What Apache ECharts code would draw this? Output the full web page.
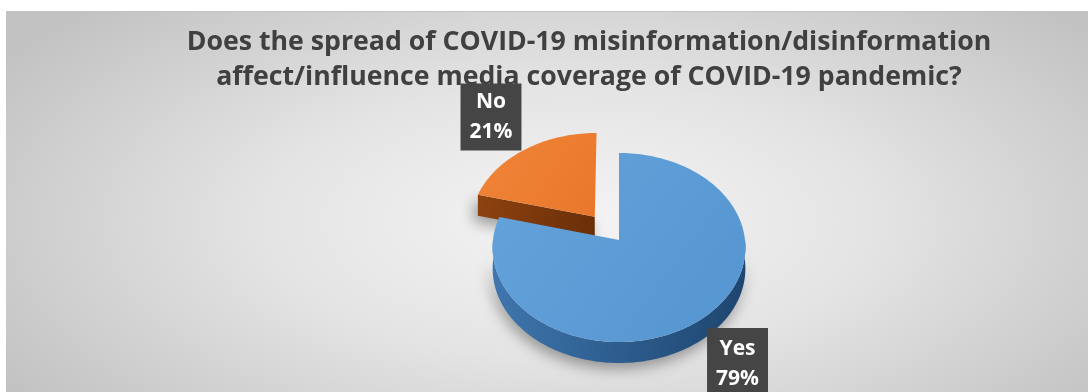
<!DOCTYPE html>
<html>
<head>
<meta charset="utf-8">
<script src="https://cdn.jsdelivr.net/npm/echarts@6/dist/echarts.min.js"></script>
<style>
  html, body { margin: 0; padding: 0; background: #ffffff; }
  #wrap { position: relative; width: 1088px; height: 392px; overflow: hidden; background: #ffffff; }
  #bg { position: absolute; left: 6px; top: 11px; width: 1082px; height: 381px;
        background: radial-gradient(ellipse 62% 80% at 52% 55%, #f4f4f4 0%, #e4e4e4 45%, #c2c2c2 100%);
        border-top: 1px solid #c4c4c4; box-sizing: border-box; }
  #chart { position: absolute; left: 0; top: 0; width: 1088px; height: 392px; }
</style>
</head>
<body>
<div id="wrap"><div id="bg"></div><div id="chart"></div></div>
<script>
const titleLines = ['Does the spread of COVID-19 misinformation/disinformation',
                    'affect/influence media coverage of COVID-19 pandemic?'];
const categories = ['Yes', 'No'];
const values = [79, 21];
const explodedCategory = 'No';

const total = values.reduce((a, b) => a + b, 0);

// projection of the tilted pie
const CX = 619, CY = 240, RA = 126, RB = 93.9, PERSP = -0.0794, DEPTH = 21, EXPL = 0.32;
function pt(u, v, dy) {
  const w = 1 + PERSP * v;
  return [CX + RA * u / w, CY + RB * v / w + (dy || 0)];
}

const palette = {
  Yes: { top: ['#64a3db', '#5595d0'], side: ['#4178b0', '#2d5d8e', '#1f4670'] },
  No:  { top: ['#f08539', '#e9772b'], side: ['#8e4210', '#7a370c', '#6a2f09'] }
};

function renderItem(params, api) {
  const i = params.dataIndex;
  const val = api.value(0);
  let before = 0;
  for (let k = 0; k < i; k++) before += values[k];
  const a0 = before / total * Math.PI * 2;
  const a1 = (before + val) / total * Math.PI * 2;
  const mid = (a0 + a1) / 2;
  const cat = categories[i];
  const isEx = cat === explodedCategory;
  const ex = isEx ? EXPL : 0;
  const ou = ex * Math.sin(mid), ov = -ex * Math.cos(mid);
  const col = palette[cat];

  const arc = (s, e, dy) => {
    const n = Math.max(6, Math.ceil((e - s) / (Math.PI * 2) * 240));
    const out = [];
    for (let k = 0; k <= n; k++) {
      const f = s + (e - s) * k / n;
      out.push(pt(Math.sin(f) + ou, -Math.cos(f) + ov, dy));
    }
    return out;
  };

  const children = [];
  const sideGrad = { type: 'linear', x: 0, y: 0, x2: 1, y2: 0.3,
    colorStops: [{ offset: 0, color: col.side[0] }, { offset: 0.55, color: col.side[1] }, { offset: 1, color: col.side[2] }] };

  // front rim
  const fs = Math.max(a0, Math.PI / 2), fe = Math.min(a1, Math.PI * 1.5);
  if (fe > fs) {
    const topArc = arc(fs, fe, 0);
    const botArc = arc(fs, fe, DEPTH).reverse();
    children.push({ type: 'polygon', shape: { points: topArc.concat(botArc) },
      style: { fill: sideGrad, shadowBlur: 14, shadowOffsetX: -2, shadowOffsetY: 6, shadowColor: 'rgba(0,0,0,0.35)' }, z2: 1 });
  }
  // radial faces
  const c0 = pt(ou, ov, 0), c1 = pt(ou, ov, DEPTH);
  const face = (f) => {
    const p0 = pt(Math.sin(f) + ou, -Math.cos(f) + ov, 0);
    const p1 = pt(Math.sin(f) + ou, -Math.cos(f) + ov, DEPTH);
    return [c0, p0, p1, c1];
  };
  if (Math.sin(a0) < -1e-6) {
    children.push({ type: 'polygon', shape: { points: face(a0) },
      style: { fill: sideGrad, shadowBlur: 14, shadowOffsetX: -4, shadowOffsetY: 6, shadowColor: 'rgba(0,0,0,0.35)' }, z2: 1 });
  }
  if (Math.sin(a1) > 1e-6) {
    children.push({ type: 'polygon', shape: { points: face(a1) },
      style: { fill: sideGrad, shadowBlur: 14, shadowOffsetY: 6, shadowColor: 'rgba(0,0,0,0.35)' }, z2: 1 });
  }
  // top face
  children.push({ type: 'polygon', shape: { points: [c0].concat(arc(a0, a1, 0)) },
    style: { fill: { type: 'linear', x: 0, y: 0, x2: 1, y2: 1,
      colorStops: [{ offset: 0, color: col.top[0] }, { offset: 1, color: col.top[1] }] } }, z2: 2 });

  // label (best-fit placement outside the slice)
  const lr = isEx ? 1.53 : 1.4;
  const front = -Math.cos(mid) > 0;
  const lp = pt(Math.sin(mid) * lr + ou, -Math.cos(mid) * lr + ov, front ? DEPTH / 2 : 0);
  const pct = Math.round(val / total * 100) + '%';
  children.push({ type: 'text', x: lp[0], y: lp[1], z2: 50,
    style: { text: cat + '\n' + pct, fill: '#ffffff', fontSize: 21, fontWeight: 'bold',
      fontFamily: '"Open Sans", "Noto Sans", sans-serif', align: 'center', verticalAlign: 'middle',
      lineHeight: 30, backgroundColor: '#454545', padding: front ? [10, 9, 3, 9] : [4, 9, 3, 9] } });

  const base = Math.round((-Math.cos(mid) + ov + 2) * 10) * 100;
  children.forEach(c => { c.z2 += base; });
  return { type: 'group', children: children };
}

const chart = echarts.init(document.getElementById('chart'), null, { renderer: 'canvas' });
chart.setOption({
  backgroundColor: 'transparent',
  animation: false,
  title: {
    text: titleLines.join('\n'),
    left: 584, top: 20, textAlign: 'center', z: 1,
    textStyle: { fontSize: 26.7, fontWeight: 'bold', color: '#404040', lineHeight: 35,
      fontFamily: '"Open Sans", "Noto Sans", sans-serif' }
  },
  series: [{
    type: 'custom',
    coordinateSystem: 'none',
    z: 10,
    data: values.map(v => [v]),
    renderItem: renderItem
  }]
});
</script>
</body>
</html>
